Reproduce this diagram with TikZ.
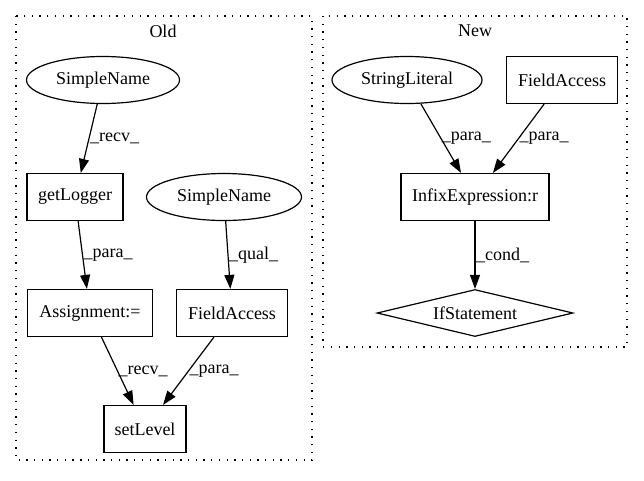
\documentclass[tikz,border=0pt]{standalone}
\usepackage{fontspec}
\setmainfont{Liberation Serif}
\usetikzlibrary{shapes.geometric,arrows.meta}
\tikzset{
 base/.style={draw, line width=1.2pt, inner sep=0pt, minimum height=47pt, font=\fontsize{18}{21}\selectfont},
 rbox/.style={base, rectangle},
 ell/.style={base, ellipse},
 dia/.style={base, diamond, aspect=4},
 edge/.style={line width=1.2pt, -{Triangle[length=14pt,width=10pt]}},
 lab/.style={font=\fontsize{18}{21}\selectfont, inner sep=0.5pt, anchor=west, pos=0.5},
 cluster/.style={line width=1.2pt, dash pattern=on 1.3pt off 6.4pt},
 ctitle/.style={font=\fontsize{18}{21}\selectfont, inner sep=0pt}
}
\begin{document}
\begin{tikzpicture}[x=1pt,y=-1pt]
\useasboundingbox (0,0) rectangle (644,480);
% clusters
\draw[cluster] (16,16) rectangle (312,460);
\node[ctitle] (oldt) at (163,31) {Old};
\draw[cluster] (323,16) rectangle (627,347);
\node[ctitle] (newt) at (475,31) {New};
% Old nodes
\node[ell, minimum width=153pt] (sn1) at (103,80) {SimpleName};
\node[rbox, minimum width=96pt] (gl) at (75,197) {getLogger};
\node[ell, minimum width=155pt] (sn2) at (224,197) {SimpleName};
\node[rbox, minimum width=125pt] (as) at (90,313) {Assignment:=};
\node[rbox, minimum width=111pt] (fa1) at (232,313) {FieldAccess};
\node[rbox, minimum width=82pt] (sl) at (145,429) {setLevel};
% New nodes
\node[ell, minimum width=150pt] (str) at (407,80) {StringLiteral};
\node[rbox, minimum width=111pt] (fa2) at (562,80) {FieldAccess};
\node[rbox, minimum width=148pt] (inf) at (475,197) {InfixExpression:r};
\node[dia, minimum width=196pt] (ifs) at (475,313) {IfStatement};
% edges
\draw[edge] (sn1) -- node[lab]{\_recv\_} (gl);
\draw[edge] (gl) -- node[lab]{\_para\_} (as);
\draw[edge] (sn2) -- node[lab]{\_qual\_} (fa1);
\draw[edge] (as) -- node[lab]{\_recv\_} (sl);
\draw[edge] (fa1) -- node[lab]{\_para\_} (sl);
\draw[edge] (str) -- node[lab]{\_para\_} (inf);
\draw[edge] (fa2) -- node[lab]{\_para\_} (inf);
\draw[edge] (inf) -- node[lab]{\_cond\_} (ifs);
\end{tikzpicture}
\end{document}
